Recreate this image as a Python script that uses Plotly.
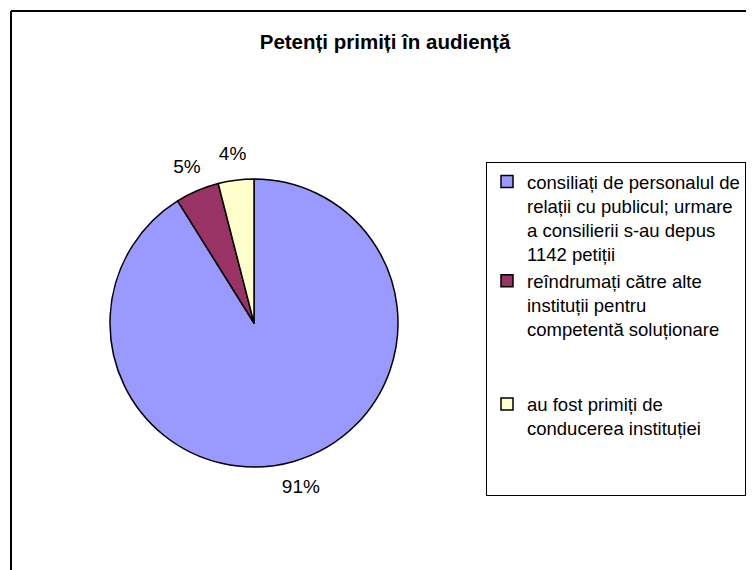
import plotly.graph_objects as go

categories = [
    "consiliați de personalul de<br>relații cu publicul; urmare<br>a consilierii s-au depus<br>1142 petiții",
    "reîndrumați către alte<br>instituții pentru<br>competentă soluționare<br> <br> ",
    "au fost primiți de<br>conducerea instituției<br> <br> ",
]
values = [91.1, 4.9, 4.0]
colors = ["#9999FF", "#993366", "#FFFFCC"]
title_text = "Petenți primiți în audiență"

W, H = 754, 570
FONT = "Liberation Sans, Arial"

# pie centre / radius in figure pixels
cx, cy, R = 246, 315, 144
RL = 192  # radius of the transparent ring that carries the percentage labels


def dom(r):
    return dict(x=[(cx - r) / W, (cx + r) / W], y=[(H - cy - r) / H, (H - cy + r) / H])


fig = go.Figure()
fig.add_trace(go.Pie(
    labels=categories,
    values=values,
    sort=False,
    direction="clockwise",
    rotation=0,
    marker=dict(colors=colors, line=dict(color="black", width=1.5)),
    textinfo="none",
    domain=dom(R),
    hoverinfo="label+percent",
))
# transparent ring used only to place the percentage labels outside the pie
fig.add_trace(go.Pie(
    labels=categories,
    values=values,
    sort=False,
    direction="clockwise",
    rotation=0,
    hole=148 / RL,
    marker=dict(colors=["rgba(0,0,0,0)"] * 3, line=dict(width=0)),
    texttemplate="%{percent:.0%}",
    textposition="inside",
    insidetextorientation="horizontal",
    textfont=dict(family=FONT, size=19, color="black"),
    domain=dom(RL),
    showlegend=False,
    hoverinfo="skip",
))

fig.update_layout(
    width=W, height=H,
    margin=dict(l=0, r=0, t=0, b=0),
    paper_bgcolor="white",
    font=dict(family=FONT, size=19, color="black"),
    uniformtext=dict(minsize=19, mode="show"),
    title=dict(text="<b>" + title_text + "</b>", x=377 / W, xanchor="center",
               y=1 - 34 / H, yanchor="middle",
               font=dict(family=FONT, size=20.5, color="black")),
    legend=dict(x=478 / W, xanchor="left", y=1 - 154 / H, yanchor="top",
                bordercolor="black", borderwidth=1, bgcolor="white",
                valign="top", itemwidth=30,
                font=dict(family=FONT, size=18.5, color="black")),
    shapes=[
        dict(type="line", xref="paper", yref="paper", x0=3 / W, x1=1.05, y0=1 - 3 / H, y1=1 - 3 / H,
             line=dict(color="black", width=2)),
        dict(type="line", xref="paper", yref="paper", x0=3 / W, x1=3 / W, y0=1 - 3 / H, y1=-0.05,
             line=dict(color="black", width=2)),
    ],
)

fig.write_html("out.html")
